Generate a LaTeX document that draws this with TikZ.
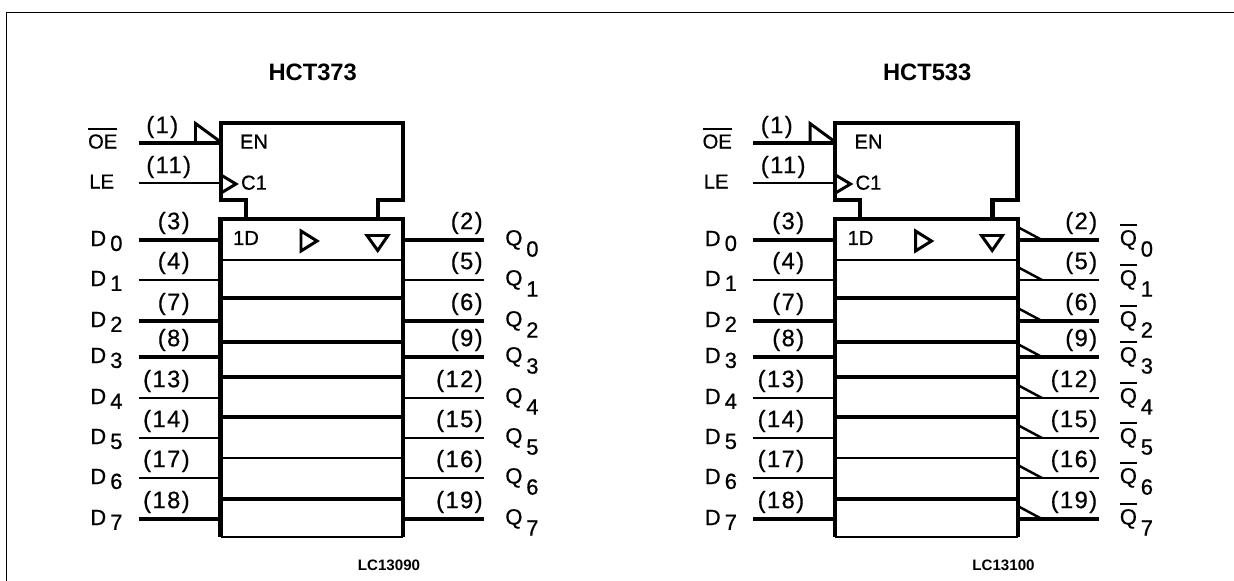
\documentclass[tikz,border=0pt]{standalone}
\usepackage{fontspec}
\setmainfont{Liberation Sans}
\newfontfamily\pinfont[LetterSpace=6,FakeBold=0.6]{Liberation Sans}
\newfontfamily\sigfont[FakeBold=0.6]{Liberation Sans}
\newcommand{\barred}[1]{\leavevmode\vbox{\hrule height 1.1pt \kern 2.4pt \hbox{#1}}}

% pin number, y, input pin, output pin, line style
\newcommand{\pinrows}{0/240/3/2/pinthick, 1/280/4/5/pinmid, 2/321/7/6/pinthick, 3/357/8/9/pinthick,
	4/398/13/12/pinmid, 5/438/14/15/pinmid, 6/478/17/16/pinthin, 7/519/18/19/pinthick}

\tikzset{
	regbox/.style={minimum width=3.64cm, minimum height=6.344cm, inner sep=0pt},
	boxline/.style={line width=2.3pt},
	pinthick/.style={line width=2.5pt},
	pinmid/.style={line width=1.5pt},
	pinthin/.style={line width=1.1pt},
	rowthick/.style={line width=2pt},
	rowthin/.style={line width=1.2pt},
	glyph/.style={line width=1.7pt},
	pinnum/.style={inner sep=0pt, font=\pinfont\fontsize{13.5}{15}\selectfont},
	sig/.style={inner sep=0pt, font=\sigfont\fontsize{12.5}{14}\selectfont},
	insig/.style={inner sep=0pt, font=\sigfont\fontsize{11.5}{14}\selectfont},
	titletext/.style={inner sep=0pt, font=\bfseries\fontsize{13.5}{16}\selectfont},
	codetext/.style={inner sep=0pt, font=\bfseries\fontsize{8.6}{10}\selectfont}
}

\begin{document}
\begin{tikzpicture}[x=0.02cm, y=-0.02cm]
	\useasboundingbox (0,0) rectangle (1234,581);
	
	% Frame
	\draw[line width=1.1pt] (6.5,581) -- (6.5,12.5) -- (1234,12.5);
	
	% Both blocks
	\foreach \dx/\pfx/\title/\code in {0/a/HCT373/LC13090, 614.5/b/HCT533/LC13100} {
		\begin{scope}[shift={(\dx,0)}, name prefix=\pfx-]
			% Nodes
			\node[titletext] (title) at (312.7,72.7) {\title};
			\node[regbox] (reg) at (311.85,378.1) {};
			\node[insig] (en) at (254,141.7) {EN};
			\node[insig] (c1) at (254,182.7) {C1};
			\node[insig] (1d) at (246,238) {1D};
			\node[insig, anchor=base] (oe) at (102.7,148.5) {\barred{OE}};
			\node[insig, anchor=base] (le) at (101.7,188.5) {LE};
			\node[pinnum, anchor=west] (n1) at (146,127) {(1)};
			\node[pinnum, anchor=west] (n11) at (146,167) {(11)};
			\node[codetext] (code) at (389,565) {\code};
			\coordinate (oein) at (138.5,143);
			\coordinate (lein) at (138.5,183);
			
			% Control block and register
			\draw[boxline] (245.7,219.5) |- (220.7,200) |- (403,122.7) |- (378,200) -- (378,219.5);
			\draw[boxline] (reg.south west) -- (reg.north west) -- (reg.north east) -- (reg.south east);
			\draw[rowthin] (reg.south west) -- (reg.south east);
			
			% Row lines
			\foreach \y/\rowstyle in {260/rowthin, 298/rowthick, 342/rowthick, 377/rowthick,
				417/rowthick, 458/rowthin, 499/rowthick} {
				\draw[\rowstyle] (reg.west |- 0,\y) -- (reg.east |- 0,\y);
			}
			
			% Control inputs
			\draw[pinthick] (oein) -- (reg.west |- oein);
			\draw[pinthin] (lein) -- (reg.west |- lein);
			\draw[glyph] (195.5,143) -- (195.5,123.5) -- (220.7,142);
			\draw[glyph] (221,175) -- (236,184) -- (221,193);
			
			% Clock and output marks
			\draw[glyph] (301,231) -- (317,241) -- (301,251) -- cycle;
			\draw[glyph] (367,235.5) -- (388,235.5) -- (377.7,250.5) -- cycle;
			
			% Data inputs
			\foreach \n/\y/\pl/\pr/\pinstyle in \pinrows {
				\coordinate (d\n) at (138.5,\y);
				\draw[\pinstyle] (d\n) -- (reg.west |- d\n);
				\node[pinnum, anchor=east] (nd\n) at (190,\y-17) {(\pl)};
				\node[sig, anchor=base west] (dl\n) at (90,\y+6) {D\hspace{2.3pt}\raisebox{-2.8pt}{\n}};
			}
		\end{scope}
	}
	
	% Outputs, HCT373
	\begin{scope}[name prefix=a-]
		\foreach \n/\y/\pl/\pr/\pinstyle in \pinrows {
			\coordinate (q\n) at (484,\y);
			\draw[\pinstyle] (reg.east |- q\n) -- (q\n);
			\node[pinnum, anchor=east] (nq\n) at (483,\y-17) {(\pr)};
			\node[sig, anchor=base west] (ql\n) at (505,\y+5.5) {Q\hspace{2.2pt}\raisebox{-6.3pt}{\n}};
		}
	\end{scope}
	
	% Outputs, HCT533
	\begin{scope}[shift={(614.5,0)}, name prefix=b-]
		\foreach \n/\y/\pl/\pr/\pinstyle in \pinrows {
			\coordinate (q\n) at (484,\y);
			\coordinate (b\n) at (427.5,\y);
			\draw[\pinstyle] (reg.east |- q\n) -- (q\n);
			\draw[line width=1.4pt] (reg.east |- 0,\y-13) -- (b\n);
			\node[pinnum, anchor=east] (nq\n) at (483,\y-17) {(\pr)};
			\node[sig, anchor=base west] (ql\n) at (505,\y+5.5) {\barred{Q}\hspace{2.2pt}\raisebox{-6.3pt}{\n}};
		}
	\end{scope}
\end{tikzpicture}
\end{document}
